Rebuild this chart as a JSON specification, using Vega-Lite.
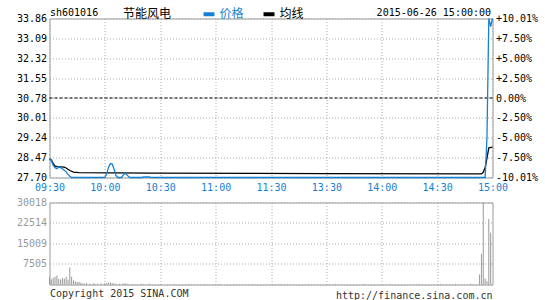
{
  "$schema": "https://vega.github.io/schema/vega-lite/v6.json",
  "autosize": {"type": "none"},
  "padding": {"left": 49.5, "top": 18.5, "right": 495.5, "bottom": 281.5},
  "background": "white",
  "bounds": "flush",
  "spacing": 25,
  "config": {
    "view": {"stroke": "#999999", "strokeWidth": 1},
    "axis": {
      "labelFont": "DejaVu Sans Mono",
      "labelFontSize": 10,
      "domain": false,
      "ticks": false,
      "gridColor": "#aaaaaa",
      "gridDash": [1, 2],
      "gridWidth": 1,
      "titleFont": "DejaVu Sans Mono",
      "titleFontSize": 10,
      "titleFontWeight": "normal",
      "titleColor": "#000000",
      "labelPadding": 3
    }
  },
  "datasets": {
    "line": [
      {"s": "均线", "i": 0, "p": 28.42}, {"s": "均线", "i": 1, "p": 28.38}, {"s": "均线", "i": 2, "p": 28.25},
      {"s": "均线", "i": 3, "p": 28.14}, {"s": "均线", "i": 4, "p": 28.12}, {"s": "均线", "i": 8, "p": 28.10},
      {"s": "均线", "i": 9, "p": 28.07}, {"s": "均线", "i": 11, "p": 27.97}, {"s": "均线", "i": 13, "p": 27.91},
      {"s": "均线", "i": 16, "p": 27.89}, {"s": "均线", "i": 55, "p": 27.87}, {"s": "均线", "i": 150, "p": 27.85},
      {"s": "均线", "i": 234, "p": 27.84}, {"s": "均线", "i": 235, "p": 27.90}, {"s": "均线", "i": 236, "p": 28.08},
      {"s": "均线", "i": 237, "p": 28.45}, {"s": "均线", "i": 238, "p": 28.85}, {"s": "均线", "i": 240, "p": 28.88},
      {"s": "价格", "i": 0, "p": 28.42}, {"s": "价格", "i": 1, "p": 28.35}, {"s": "价格", "i": 2, "p": 28.18},
      {"s": "价格", "i": 3, "p": 28.08}, {"s": "价格", "i": 4, "p": 28.04}, {"s": "价格", "i": 5, "p": 28.10},
      {"s": "价格", "i": 6, "p": 28.08}, {"s": "价格", "i": 7, "p": 28.04}, {"s": "价格", "i": 8, "p": 27.98},
      {"s": "价格", "i": 9, "p": 27.92}, {"s": "价格", "i": 10, "p": 27.82}, {"s": "价格", "i": 11, "p": 27.75},
      {"s": "价格", "i": 12, "p": 27.70}, {"s": "价格", "i": 30, "p": 27.70}, {"s": "价格", "i": 31, "p": 27.85},
      {"s": "价格", "i": 32, "p": 28.10}, {"s": "价格", "i": 33, "p": 28.24}, {"s": "价格", "i": 34, "p": 28.22},
      {"s": "价格", "i": 35, "p": 28.02}, {"s": "价格", "i": 36, "p": 27.78}, {"s": "价格", "i": 37, "p": 27.70},
      {"s": "价格", "i": 39, "p": 27.70}, {"s": "价格", "i": 40, "p": 27.80}, {"s": "价格", "i": 41, "p": 27.86},
      {"s": "价格", "i": 42, "p": 27.80}, {"s": "价格", "i": 43, "p": 27.72}, {"s": "价格", "i": 44, "p": 27.70},
      {"s": "价格", "i": 50, "p": 27.70}, {"s": "价格", "i": 51, "p": 27.72}, {"s": "价格", "i": 54, "p": 27.72},
      {"s": "价格", "i": 55, "p": 27.70}, {"s": "价格", "i": 236, "p": 27.70}, {"s": "价格", "i": 237, "p": 29.24},
      {"s": "价格", "i": 238, "p": 33.86}, {"s": "价格", "i": 239, "p": 33.55}, {"s": "价格", "i": 240, "p": 33.86}
    ],
    "vol": [
      {"i": 0, "v": 2800}, {"i": 1, "v": 1900}, {"i": 2, "v": 2500}, {"i": 3, "v": 2800}, {"i": 4, "v": 3300},
      {"i": 5, "v": 2100}, {"i": 6, "v": 1800}, {"i": 7, "v": 2400}, {"i": 8, "v": 2100}, {"i": 9, "v": 2800},
      {"i": 10, "v": 1800}, {"i": 11, "v": 6200}, {"i": 12, "v": 2800}, {"i": 13, "v": 1500}, {"i": 14, "v": 1200},
      {"i": 15, "v": 900}, {"i": 16, "v": 1000}, {"i": 17, "v": 700}, {"i": 18, "v": 400}, {"i": 19, "v": 300},
      {"i": 20, "v": 600}, {"i": 22, "v": 300}, {"i": 24, "v": 500}, {"i": 26, "v": 300}, {"i": 28, "v": 400},
      {"i": 30, "v": 500}, {"i": 31, "v": 600}, {"i": 32, "v": 700}, {"i": 33, "v": 800}, {"i": 34, "v": 500},
      {"i": 35, "v": 400}, {"i": 36, "v": 300}, {"i": 38, "v": 300}, {"i": 40, "v": 400}, {"i": 41, "v": 500},
      {"i": 42, "v": 300}, {"i": 45, "v": 200}, {"i": 50, "v": 300}, {"i": 54, "v": 300}, {"i": 60, "v": 200},
      {"i": 68, "v": 200}, {"i": 76, "v": 200}, {"i": 84, "v": 200}, {"i": 92, "v": 200}, {"i": 100, "v": 200},
      {"i": 110, "v": 200}, {"i": 125, "v": 200}, {"i": 140, "v": 200}, {"i": 155, "v": 200}, {"i": 170, "v": 200},
      {"i": 185, "v": 200}, {"i": 200, "v": 200}, {"i": 212, "v": 250}, {"i": 220, "v": 250}, {"i": 228, "v": 300},
      {"i": 233, "v": 3700}, {"i": 234, "v": 11200}, {"i": 235, "v": 30018}, {"i": 236, "v": 2200},
      {"i": 237, "v": 1300}, {"i": 238, "v": 24000}, {"i": 239, "v": 19000}
    ]
  },
  "vconcat": [
    {
      "width": 443,
      "height": 159,
      "title": {
        "text": "节能风电",
        "anchor": "start",
        "frame": "group",
        "dx": 73.5,
        "dy": 24.5,
        "offset": 2,
        "baseline": "alphabetic",
        "font": "Noto Sans CJK SC",
        "fontSize": 12,
        "fontWeight": "normal",
        "color": "#000000"
      },
      "layer": [
        {
          "data": {"values": [{"pct": 0}]},
          "mark": {"type": "rule", "color": "#000000", "strokeDash": [3, 2], "strokeWidth": 1},
          "encoding": {
            "y": {
              "field": "pct",
              "type": "quantitative",
              "scale": {"domain": [-10.01, 10.01], "nice": false, "zero": false},
              "axis": {
                "orient": "right",
                "values": [-10.01, -7.5, -5, -2.5, 0, 2.5, 5, 7.5, 10.01],
                "labelExpr": "datum.value > 0.001 ? '+' + format(datum.value, '.2f') + '%' : (datum.value < -0.001 ? '-' + format(-datum.value, '.2f') + '%' : '\u00a00.00%')",
                "grid": false,
                "labelPadding": 3,
                "title": "2015-06-26 15:00:00",
                "titleAngle": 0,
                "titleAlign": "right",
                "titleBaseline": "alphabetic",
                "titleX": -2,
                "titleY": -3,
                "encode": {"labels": {"update": {"fill": {"signal": "datum.value > 0.001 ? '#ff0000' : (datum.value < -0.001 ? '#1681d4' : '#000000')"}}}}
              }
            }
          }
        },
        {
          "data": {"name": "line"},
          "mark": {"type": "line", "strokeWidth": 1.3},
          "encoding": {
            "x": {
              "field": "i",
              "type": "quantitative",
              "scale": {"domain": [0, 240], "nice": false, "zero": false},
              "axis": {
                "values": [0, 30, 60, 90, 120, 150, 180, 210, 240],
                "labelExpr": "['09:30','10:00','10:30','11:00','11:30','13:30','14:00','14:30','15:00'][round(datum.value/30)]",
                "grid": true,
                "title": null,
                "labelColor": "#1681d4",
                "labelPadding": 5,
                "labelFlush": false
              }
            },
            "y": {
              "field": "p",
              "type": "quantitative",
              "scale": {"domain": [27.7, 33.86], "nice": false, "zero": false},
              "axis": {
                "orient": "left",
                "values": [27.7, 28.47, 29.24, 30.01, 30.78, 31.55, 32.32, 33.09, 33.86],
                "format": ".2f",
                "grid": true,
                "title": "sh601016",
                "titleAngle": 0,
                "titleAlign": "left",
                "titleBaseline": "alphabetic",
                "titleX": 0,
                "titleY": -3,
                "encode": {"labels": {"update": {"fill": {"signal": "datum.value > 30.79 ? '#ff0000' : (datum.value < 30.77 ? '#1681d4' : '#000000')"}}}}
              }
            },
            "color": {
              "field": "s",
              "type": "nominal",
              "scale": {"domain": ["价格", "均线"], "range": ["#1681d4", "#000000"]},
              "legend": {
                "orient": "none",
                "legendX": 152,
                "legendY": -12,
                "direction": "horizontal",
                "title": null,
                "symbolType": "stroke",
                "symbolStrokeWidth": 4,
                "symbolSize": 121,
                "labelFont": "Noto Sans CJK SC",
                "labelFontSize": 12,
                "labelOffset": 3,
                "columnPadding": 11,
                "padding": 0,
                "encode": {"labels": {"update": {"fill": {"signal": "datum.label == '价格' ? '#1681d4' : '#000000'"}}}}
              }
            }
          }
        }
      ],
      "resolve": {"scale": {"y": "independent"}}
    },
    {
      "width": 443,
      "height": 82,
      "title": {
        "text": "http://finance.sina.com.cn",
        "orient": "bottom",
        "anchor": "end",
        "frame": "group",
        "offset": 4,
        "dy": -12,
        "baseline": "top",
        "font": "DejaVu Sans Mono",
        "fontSize": 10,
        "fontWeight": "normal",
        "color": "#333333"
      },
      "data": {"name": "vol"},
      "mark": {"type": "rule", "color": "#999999", "strokeWidth": 1},
      "encoding": {
        "x": {
          "field": "i",
          "type": "quantitative",
          "scale": {"domain": [0, 240], "nice": false, "zero": false},
          "axis": {
            "values": [30, 60, 90, 120, 150, 180, 210],
            "labels": false,
            "grid": true,
            "title": "Copyright 2015 SINA.COM",
            "titleAnchor": "start",
            "titleAlign": "left",
            "titleBaseline": "top",
            "titlePadding": 4,
            "titleColor": "#333333"
          }
        },
        "y": {
          "field": "v",
          "type": "quantitative",
          "scale": {"domain": [0, 30018], "nice": false, "zero": true},
          "axis": {
            "values": [0, 7505, 15009, 22514, 30018],
            "format": "d",
            "labelExpr": "datum.value == 0 ? '' : datum.label",
            "labelColor": "#999999",
            "grid": true,
            "title": null
          }
        },
        "y2": {"datum": 0}
      }
    }
  ]
}
